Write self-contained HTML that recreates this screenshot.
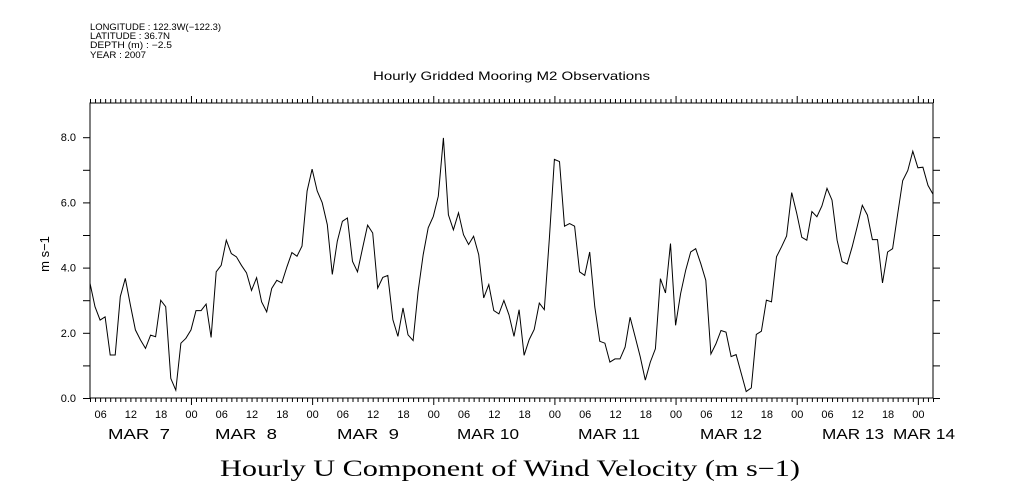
<!DOCTYPE html>
<html><head><meta charset="utf-8"><style>body{margin:0;background:#fff}svg{display:block}</style></head>
<body>
<svg id="chart" width="1009" height="504" xmlns="http://www.w3.org/2000/svg" font-family="Liberation Sans, sans-serif">
<rect width="1009" height="504" fill="#fff"/>
<g font-size="9" fill="#000">
<text x="90" y="30" textLength="131" lengthAdjust="spacingAndGlyphs">LONGITUDE : 122.3W(−122.3)</text>
<text x="90" y="39" textLength="80" lengthAdjust="spacingAndGlyphs">LATITUDE : 36.7N</text>
<text x="90" y="48" textLength="82" lengthAdjust="spacingAndGlyphs">DEPTH (m) : −2.5</text>
<text x="90" y="58" textLength="56" lengthAdjust="spacingAndGlyphs">YEAR : 2007</text>
</g>
<text x="373" y="80" font-size="12" textLength="277" lengthAdjust="spacingAndGlyphs">Hourly Gridded Mooring M2 Observations</text>
<text x="220" y="476" font-size="23" font-family="Liberation Serif, serif" textLength="580" lengthAdjust="spacingAndGlyphs">Hourly U Component of Wind Velocity (m s−1)</text>
<text x="0" y="0" font-size="13" text-anchor="middle" transform="translate(49,254) rotate(-90)">m s−1</text>
<rect x="90" y="103" width="843" height="295" fill="none" stroke="#000" stroke-width="1"/>
<g id="axes"></g>
<path id="line" fill="none" stroke="#000" stroke-width="1"/>
</svg>
<script>
const values = [3.52,2.80,2.39,2.49,1.32,1.32,3.11,3.67,2.85,2.09,1.78,1.52,1.93,1.88,3.00,2.80,0.60,0.24,1.68,1.83,2.09,2.68,2.68,2.88,1.86,3.87,4.07,4.84,4.43,4.33,4.07,3.84,3.30,3.69,2.95,2.64,3.36,3.61,3.53,4.02,4.46,4.35,4.66,6.35,7.02,6.35,5.99,5.32,3.79,4.81,5.42,5.52,4.19,3.87,4.60,5.30,5.06,3.37,3.70,3.76,2.40,1.89,2.76,1.94,1.76,3.27,4.40,5.22,5.57,6.19,7.98,5.62,5.16,5.68,5.01,4.71,4.96,4.40,3.07,3.48,2.68,2.58,2.99,2.55,1.89,2.71,1.31,1.79,2.10,2.91,2.71,4.91,7.32,7.25,5.27,5.35,5.27,3.87,3.76,4.48,2.79,1.74,1.68,1.10,1.20,1.20,1.56,2.48,1.87,1.27,0.55,1.10,1.51,3.66,3.22,4.74,2.23,3.20,3.92,4.48,4.58,4.12,3.61,1.35,1.66,2.07,2.02,1.27,1.33,0.76,0.20,0.31,1.95,2.05,3.00,2.95,4.33,4.64,4.97,6.30,5.67,4.93,4.84,5.72,5.56,5.89,6.43,6.07,4.84,4.18,4.11,4.64,5.27,5.91,5.61,4.86,4.86,3.53,4.48,4.58,5.65,6.67,6.98,7.57,7.06,7.08,6.52,6.25];
const startHour = 4; // Mar 7 04:00
const yTicks = [0,2,4,6,8];
const yTickLabels = ["0.0","2.0","4.0","6.0","8.0"];
const dayLabels = ["MAR  7","MAR  8","MAR  9","MAR 10","MAR 11","MAR 12","MAR 13","MAR 14"];
const dayLabelX = [108,215,337,457,578,700,822,893];

const X0=90,X1=933,Y0=398,Y1=103;
const pxH=(X1-X0)/(values.length-1);
const xs=i=>X0+i*pxH;
const ys=v=>Y0-v*32.6;
const NS="http://www.w3.org/2000/svg";
const ax=document.getElementById('axes');
function mk(t,a){const e=document.createElementNS(NS,t);for(const k in a)e.setAttribute(k,a[k]);ax.appendChild(e);return e;}
let d='';
values.forEach((v,i)=>{d+=(i?'L':'M')+xs(i).toFixed(1)+','+ys(v).toFixed(1);});
document.getElementById('line').setAttribute('d',d);
for(let i=0;i<values.length;i++){
  const h=(startHour+i)%24;const x=xs(i)+0.5;
  const len=h===0?7:4;
  const t1=mk('line',{x1:x,x2:x,y1:Y0,y2:Y0+len,stroke:'#000'});
  
  
  const t2=mk('line',{x1:x,x2:x,y1:Y1,y2:Y1-len,stroke:'#000'});
  
  
  if(h%6===0){
    const tx=mk('text',{x:x,y:418,'font-size':11,'text-anchor':'middle'});
    tx.textContent=String(h).padStart(2,'0');
    
    
  }
}
dayLabels.forEach((s,k)=>{
  const t=mk('text',{x:dayLabelX[k],y:439,'font-size':15,textLength:62,lengthAdjust:'spacingAndGlyphs'});
  t.style.whiteSpace='pre';
  t.textContent=s;
  
  
});
for(let v=0;v<=8;v++){
  const y=ys(v)+0.5;
  const a=mk('line',{x1:X0-7,x2:X0,y1:y,y2:y,stroke:'#000'});
  
  
  const b=mk('line',{x1:X1,x2:X1+7,y1:y,y2:y,stroke:'#000'});
  
  
}
yTicks.forEach((v,k)=>{
  const t=mk('text',{x:76,y:ys(v)+4,'font-size':11,'text-anchor':'end'});
  t.textContent=yTickLabels[k];
  
  
});
</script>
</body></html>
